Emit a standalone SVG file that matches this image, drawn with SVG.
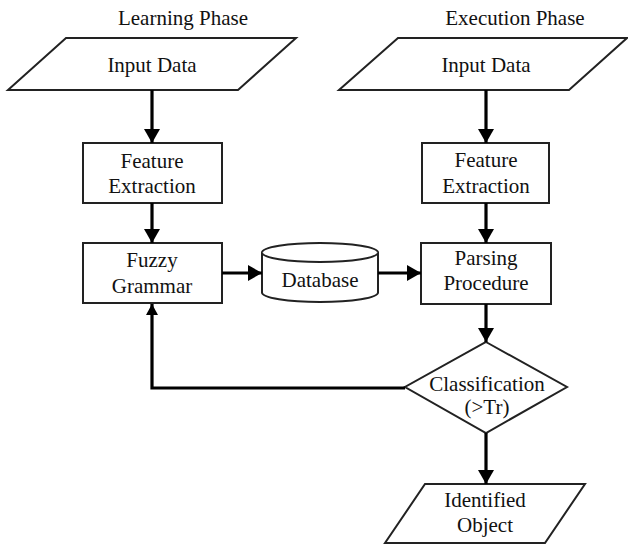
<svg xmlns="http://www.w3.org/2000/svg" width="628" height="545" viewBox="0 0 628 545">
<style>
.shape{fill:#fff;stroke:#222;stroke-width:2}
.lbl{fill:#111;text-anchor:middle;font-size:21px;font-family:'Liberation Serif','Times New Roman',serif}
.c{fill:none;stroke:#000;stroke-width:3.2}
</style>
<defs>
<marker id="ah" markerUnits="userSpaceOnUse" markerWidth="18" markerHeight="16" refX="14" refY="8" orient="auto">
<path d="M0,0 L14,8 L0,16 Z" fill="#000"/>
</marker>
<marker id="ahs" markerUnits="userSpaceOnUse" markerWidth="14" markerHeight="12" refX="11" refY="6" orient="auto">
<path d="M0,0 L11,6 L0,12 Z" fill="#000"/>
</marker>
</defs>
<rect width="628" height="545" fill="#fff"/>
<text class="lbl" x="183" y="25">Learning Phase</text>
<text class="lbl" x="515" y="25">Execution Phase</text>
<g id="input-left">
<polygon class="shape" points="66,38 296,38 238,90 8,90"/>
<text class="lbl" x="152" y="72">Input Data</text>
</g>
<g id="input-right">
<polygon class="shape" points="398,38 627,38 569,90 339,90"/>
<text class="lbl" x="486" y="72">Input Data</text>
</g>
<g id="feature-left">
<rect class="shape" x="83" y="143" width="139" height="60"/>
<text class="lbl" x="152" y="168">Feature</text>
<text class="lbl" x="152" y="193">Extraction</text>
</g>
<g id="feature-right">
<rect class="shape" x="422" y="143" width="127" height="60"/>
<text class="lbl" x="486" y="167">Feature</text>
<text class="lbl" x="486" y="193">Extraction</text>
</g>
<g id="fuzzy">
<rect class="shape" x="83" y="243" width="139" height="60"/>
<text class="lbl" x="152" y="267">Fuzzy</text>
<text class="lbl" x="152" y="293">Grammar</text>
</g>
<g id="database">
<path class="shape" d="M262,252.5 V292.5 A58,9.5 0 0 0 378,292.5 V252.5 A58,9.5 0 0 0 262,252.5 Z"/>
<path class="shape" fill="none" d="M262,252.5 A58,9.5 0 0 0 378,252.5"/>
<text class="lbl" x="320" y="287">Database</text>
</g>
<g id="parsing">
<rect class="shape" x="421" y="243" width="130" height="61"/>
<text class="lbl" x="486" y="265">Parsing</text>
<text class="lbl" x="486" y="290">Procedure</text>
</g>
<g id="classification">
<polygon class="shape" points="486,342 567,387 486,433 405,387"/>
<text class="lbl" x="487" y="391">Classification</text>
<text class="lbl" x="487" y="414">(&gt;Tr)</text>
</g>
<g id="identified">
<polygon class="shape" points="425,484 585,484 545,543 385,543"/>
<text class="lbl" x="485" y="507">Identified</text>
<text class="lbl" x="485" y="532">Object</text>
</g>
<g id="connectors">
<line class="c" x1="152" y1="90" x2="152" y2="143" marker-end="url(#ah)"/>
<line class="c" x1="486" y1="90" x2="486" y2="143" marker-end="url(#ah)"/>
<line class="c" x1="152" y1="203" x2="152" y2="243" marker-end="url(#ah)"/>
<line class="c" x1="486" y1="203" x2="486" y2="243" marker-end="url(#ah)"/>
<line class="c" x1="222" y1="273" x2="262" y2="273" marker-end="url(#ah)"/>
<line class="c" x1="378" y1="273" x2="421" y2="273" marker-end="url(#ah)"/>
<line class="c" x1="486" y1="304" x2="486" y2="342" marker-end="url(#ah)"/>
<line class="c" x1="486" y1="433" x2="486" y2="484" marker-end="url(#ah)"/>
<path class="c" d="M405,388 H152 V304" marker-end="url(#ahs)"/>
</g>
</svg>
